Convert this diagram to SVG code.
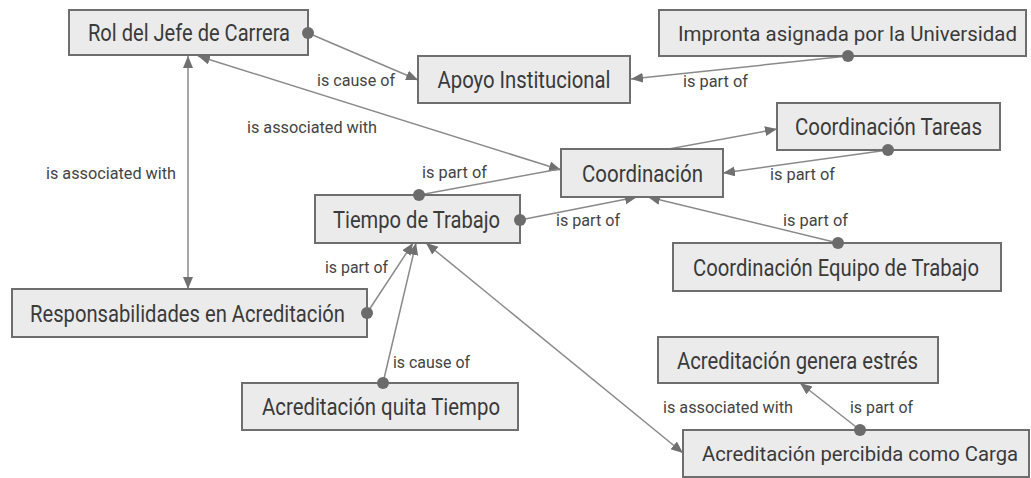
<svg xmlns="http://www.w3.org/2000/svg" width="1031" height="478" viewBox="0 0 1031 478">
<style>
.box{fill:#ebebeb;stroke:#6e6e6e;stroke-width:2}
.nt{font-family:Roboto,"Liberation Sans",sans-serif;font-size:23.5px;fill:#3a3a3a;text-anchor:middle}
.nt.sm{font-size:20px}
.lbl{font-family:Roboto,"Liberation Sans",sans-serif;font-size:16.5px;fill:#444}
.ln{stroke:#8a8a8a;stroke-width:1.5;fill:none}
.dot{fill:#6b6b6b}
</style>
<defs>
<marker id="arr" markerUnits="userSpaceOnUse" markerWidth="13" markerHeight="11" refX="12" refY="5" orient="auto-start-reverse" viewBox="0 0 13 11">
<path d="M0,0 L12,5 L0,10 z" fill="#707070"/>
</marker>
</defs>
<rect width="1031" height="478" fill="#ffffff"/>
<g id="connectors">
<line class="ln" x1="308" y1="33" x2="418" y2="80" marker-end="url(#arr)"/>
<line class="ln" x1="848" y1="56" x2="631" y2="79" marker-end="url(#arr)"/>
<line class="ln" x1="188" y1="56" x2="188" y2="289" marker-start="url(#arr)" marker-end="url(#arr)"/>
<line class="ln" x1="198" y1="56" x2="561" y2="170" marker-start="url(#arr)" marker-end="url(#arr)"/>
<line class="ln" x1="419" y1="195" x2="777" y2="129" marker-end="url(#arr)"/>
<line class="ln" x1="520" y1="220" x2="637" y2="197" marker-end="url(#arr)"/>
<line class="ln" x1="888" y1="150" x2="723" y2="173" marker-end="url(#arr)"/>
<line class="ln" x1="838" y1="243" x2="648" y2="197" marker-end="url(#arr)"/>
<line class="ln" x1="367" y1="313" x2="413" y2="243" marker-end="url(#arr)"/>
<line class="ln" x1="383" y1="383" x2="416" y2="243" marker-end="url(#arr)"/>
<line class="ln" x1="426" y1="243" x2="683" y2="453" marker-start="url(#arr)" marker-end="url(#arr)"/>
<line class="ln" x1="860" y1="430" x2="800" y2="383" marker-end="url(#arr)"/>
<text class="lbl" x="317" y="86" textLength="78" lengthAdjust="spacingAndGlyphs">is cause of</text>
<text class="lbl" x="683" y="87" textLength="65" lengthAdjust="spacingAndGlyphs">is part of</text>
<text class="lbl" x="46" y="179" textLength="130" lengthAdjust="spacingAndGlyphs">is associated with</text>
<text class="lbl" x="247" y="133" textLength="130" lengthAdjust="spacingAndGlyphs">is associated with</text>
<text class="lbl" x="422" y="178" textLength="65" lengthAdjust="spacingAndGlyphs">is part of</text>
<text class="lbl" x="556" y="226" textLength="64" lengthAdjust="spacingAndGlyphs">is part of</text>
<text class="lbl" x="770" y="180" textLength="65" lengthAdjust="spacingAndGlyphs">is part of</text>
<text class="lbl" x="783" y="226" textLength="65" lengthAdjust="spacingAndGlyphs">is part of</text>
<text class="lbl" x="325" y="273" textLength="63" lengthAdjust="spacingAndGlyphs">is part of</text>
<text class="lbl" x="393" y="368" textLength="77" lengthAdjust="spacingAndGlyphs">is cause of</text>
<text class="lbl" x="663" y="413" textLength="130" lengthAdjust="spacingAndGlyphs">is associated with</text>
<text class="lbl" x="850" y="413" textLength="63" lengthAdjust="spacingAndGlyphs">is part of</text>
</g>
<g id="n-rol"><rect class="box" x="69" y="10" width="239" height="45"/><text class="nt" x="189" y="41" textLength="202" lengthAdjust="spacingAndGlyphs">Rol del Jefe de Carrera</text></g>
<g id="n-apoyo"><rect class="box" x="418" y="56" width="212" height="47"/><text class="nt" x="524" y="88" textLength="173" lengthAdjust="spacingAndGlyphs">Apoyo Institucional</text></g>
<g id="n-impronta"><rect class="box" x="659" y="10" width="367" height="46"/><text class="nt sm" x="847.5" y="40.5" textLength="339" lengthAdjust="spacingAndGlyphs">Impronta asignada por la Universidad</text></g>
<g id="n-coordtareas"><rect class="box" x="777" y="103" width="223" height="47"/><text class="nt" x="888.5" y="135" textLength="187" lengthAdjust="spacingAndGlyphs">Coordinación Tareas</text></g>
<g id="n-coordinacion"><rect class="box" x="561" y="149" width="162" height="48"/><text class="nt" x="642.5" y="181.5" textLength="121" lengthAdjust="spacingAndGlyphs">Coordinación</text></g>
<g id="n-tiempo"><rect class="box" x="315" y="195" width="205" height="48"/><text class="nt" x="416.5" y="227.5" textLength="167" lengthAdjust="spacingAndGlyphs">Tiempo de Trabajo</text></g>
<g id="n-coordequipo"><rect class="box" x="673" y="243" width="328" height="48"/><text class="nt" x="836" y="275.5" textLength="286" lengthAdjust="spacingAndGlyphs">Coordinación Equipo de Trabajo</text></g>
<g id="n-responsabilidades"><rect class="box" x="12" y="289" width="355" height="48"/><text class="nt" x="187.5" y="321.5" textLength="315" lengthAdjust="spacingAndGlyphs">Responsabilidades en Acreditación</text></g>
<g id="n-quita"><rect class="box" x="242" y="383" width="276" height="47"/><text class="nt" x="381" y="415" textLength="238" lengthAdjust="spacingAndGlyphs">Acreditación quita Tiempo</text></g>
<g id="n-genera"><rect class="box" x="658" y="337" width="280" height="46"/><text class="nt" x="797.5" y="368.5" textLength="241" lengthAdjust="spacingAndGlyphs">Acreditación genera estrés</text></g>
<g id="n-percibida"><rect class="box" x="683" y="430" width="346" height="47"/><text class="nt sm" x="860" y="461" textLength="316" lengthAdjust="spacingAndGlyphs">Acreditación percibida como Carga</text></g>
<g id="connector-ends">
<circle class="dot" cx="308" cy="33" r="6"/>
<circle class="dot" cx="848" cy="56" r="6"/>
<circle class="dot" cx="419" cy="195" r="6"/>
<circle class="dot" cx="520" cy="220" r="6"/>
<circle class="dot" cx="888" cy="150" r="6"/>
<circle class="dot" cx="838" cy="243" r="6"/>
<circle class="dot" cx="367" cy="313" r="6"/>
<circle class="dot" cx="383" cy="383" r="6"/>
<circle class="dot" cx="860" cy="430" r="6"/>
</g>
</svg>
